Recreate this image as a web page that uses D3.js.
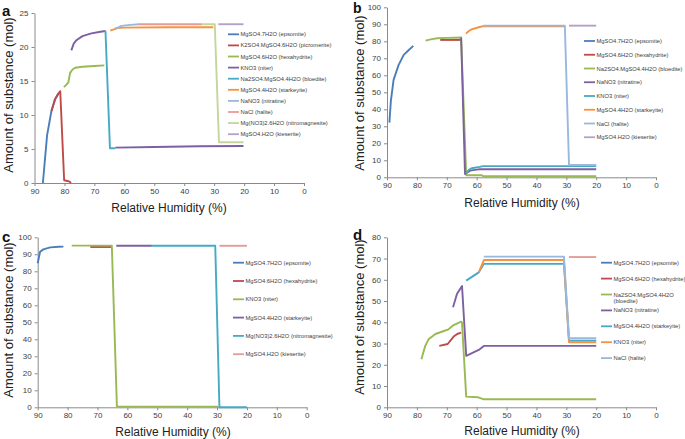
<!DOCTYPE html>
<html><head><meta charset="utf-8">
<script src="https://cdn.jsdelivr.net/npm/d3@7"></script>
<style>
body{margin:0;background:#fff;}
svg{display:block;font-family:"Liberation Sans",Arial,sans-serif;}
</style></head>
<body>
<svg id="chart" width="685" height="439"></svg>
<script>
// ---------- data (RH %, amount mol) ----------
const rhTicks = [90, 80, 70, 60, 50, 40, 30, 20, 10, 0];

// Panel a
const aNames = ["MgSO4.7H2O (epsomite)", "K2SO4.MgSO4.6H2O (picromerite)", "MgSO4.6H2O (hexahydrite)", "KNO3 (niter)", "Na2SO4.MgSO4.4H2O (bloedite)", "MgSO4.4H2O (starkeyite)", "NaNO3 (nitratine)", "NaCl (halite)", "Mg(NO3)2.6H2O (nitromagnesite)", "MgSO4.H2O (kieserite)"];
const aEpsomite = [[87.2,0],[85.8,7.0],[84.3,10.7],[83.0,12.4],[81.9,13.2]];
const aPicromerite = [[84.3,10.6],[83.2,12.3],[82.3,13.0],[81.4,13.5],[80.1,0.4],[79.0,0.3],[78.3,0.2],[77.8,0]];
const aHexahydrite = [[80.2,14.1],[79.5,14.4],[78.7,14.8],[78.1,16.2],[77.3,16.7],[76.4,16.95],[74,17.1],[70,17.2],[66.7,17.3]];
const aNiter = [[77.7,19.5],[76.9,20.5],[76,21.0],[74,21.6],[71,22.0],[68,22.25],[66.3,22.35],[null,null],[63,5.2],[50,5.3],[35,5.4],[20.2,5.45]];
const aBloedite = [[66.3,22.4],[64.8,5.1],[63,5.1]];
const aStarkeyite = [[64.7,22.4],[63.5,22.6],[62.5,22.8],[60,22.85],[45,22.9],[30.3,22.9]];
const aNitratine = [[63,22.6],[62,22.9],[61,23.1],[58,23.25],[55,23.35]];
const aHalite = [[55.2,23.35],[34,23.35]];
const aNitromagnesite = [[34,23.35],[29.8,23.35],[28.4,6.0],[20.2,6.0]];
const aKieserite = [[28.6,23.35],[20.2,23.35]];

// Panel b
const bNames = ["MgSO4.7H2O (epsomite)", "MgSO4.6H2O (hexahydrite)", "Na2SO4.MgSO4.4H2O (bloedite)", "NaNO3 (nitratine)", "KNO3 (niter)", "MgSO4.4H2O (starkeyite)", "NaCl (halite)", "MgSO4.H2O (kieserite)"];
const bEpsomite = [[89.2,32.2],[88.7,45],[87.8,57.3],[86.1,66.1],[84.4,72],[82.7,74.9],[81.2,77.3]];
const bHexahydrite = [[72.2,80.8],[65.2,80.8]];
const bBloedite = [[77.1,80.4],[75,81.3],[73.1,81.8],[70,82.0],[65.2,82.2],[63.5,1.2],[58.3,1.2],[57.8,0.6],[20,0.6]];
const bNitratine = [[65.2,82.2],[63.9,1.9],[62.2,3.9],[60,4.5],[58.9,4.7],[20,4.7]];
const bNiter = [[63.6,2.3],[62.5,4.5],[61.7,5.3],[59,6.1],[57.8,6.6],[20,6.6]];
const bStarkeyite = [[63.6,84.5],[62.5,86.2],[61.7,87.0],[59,88.4],[57.8,88.9],[30.5,88.8]];
const bHalite = [[57.8,89.2],[30.5,89.2],[29.1,7.2],[20,7.2]];
const bKieserite = [[29.1,89.2],[20,89.2]];

// Panel c
const cNames = ["MgSO4.7H2O (epsomite)", "MgSO4.6H2O (hexahydrite)", "KNO3 (niter)", "MgSO4.4H2O (starkeyite)", "Mg(NO3)2.6H2O (nitromagnesite)", "MgSO4.H2O (kieserite)"];
const cEpsomite = [[90,84.7],[89.5,89],[89.2,91.5],[88.1,92.9],[85.8,94.1],[83,94.4],[81.4,94.5]];
const cHexahydrite = [[72.4,94.3],[65.2,94.3]];
const cNiter = [[78.6,95.1],[65.2,95.1],[63.5,0.4],[29.6,0.4]];
const cStarkeyite = [[63.7,95],[51.8,95]];
const cNitromagnesite = [[51.8,95],[30.6,95],[29.2,0],[20,0]];
const cKieserite = [[29.2,95],[20,95]];

// Panel d
const dNames = ["MgSO4.7H2O (epsomite)", "MgSO4.6H2O (hexahydrite)", "Na2SO4.MgSO4.4H2O|(bloedite)", "NaNO3 (nitratine)", "MgSO4.4H2O (starkeyite)", "KNO3 (niter)", "NaCl (halite)"];
const dEpsomite = [];
const dHexahydrite = [[72.5,28.9],[69.7,29.8],[67.7,33.3],[66.5,34.5],[65.2,35.1]];
const dBloedite = [[78.5,22.6],[77.2,28.9],[76.1,32],[73.8,34.5],[71,35.9],[69.4,36.7],[67.7,38.7],[65.2,40.3],[64.9,39.8],[63.5,5.0],[59.5,4.7],[57.8,3.8],[20,3.8]];
const dNitratine = [[67.9,47.1],[66.6,53.3],[64.9,57.1],[63.5,24.2],[59.3,27],[57.6,28.9],[20,28.9]];
const dStarkeyite = [[63.5,59.6],[59.3,63.5],[57.6,67.5],[30.8,67.5],[29.1,31.4],[20,31.4]];
const dNiter = [[59.3,63.5],[57.6,69.3],[30.8,69.3],[29.1,30.6],[20,30.6]];
const dHalite = [[57.6,70.9],[30.8,70.9],[29.1,32.5],[20,32.5]];
const dKieserite = [[29.1,70.7],[20,70.7]];

// ---------- colours ----------
const C = {blue:"#4A7EBB", red:"#BE4B48", green:"#98B954", purple:"#7D60A0", cyan:"#46AAC5", orange:"#F69240", lblue:"#9AB8DE", pink:"#E29C9A", lgreen:"#C3D69B", lav:"#B3A2C7"};

// ---------- panel layout ----------
const panels = [
  {label:"a", lx:2, ly:16, lsize:15, x0:34.5, x1:304, y0:183, y1:13, yMax:25, yStep:5,
   ytx:8.5, yty:95, xtx:169, xty:212,
   series:[aEpsomite,aPicromerite,aHexahydrite,aNiter,aBloedite,aStarkeyite,aNitratine,aHalite,aNitromagnesite,aKieserite],
   colors:[C.blue,C.red,C.green,C.purple,C.cyan,C.orange,C.lblue,C.pink,C.lgreen,C.lav],
   names:aNames, legX:228, legY:34.3, legDy:11.1},
  {label:"b", lx:353, ly:13, lsize:14, x0:387, x1:656, y0:177.3, y1:7.3, yMax:100, yStep:10,
   ytx:359, yty:93, xtx:522, xty:207,
   series:[bEpsomite,bHexahydrite,bBloedite,bNitratine,bNiter,bStarkeyite,bHalite,bKieserite],
   colors:[C.blue,C.red,C.green,C.purple,C.cyan,C.orange,C.lblue,C.lav],
   names:bNames, legX:584, legY:41, legDy:13.75},
  {label:"c", lx:2, ly:242, lsize:15, x0:37.7, x1:306.7, y0:407.3, y1:237.3, yMax:100, yStep:10,
   ytx:8, yty:320, xtx:173, xty:435.5,
   series:[cEpsomite,cHexahydrite,cNiter,cStarkeyite,cNitromagnesite,cKieserite],
   colors:[C.blue,C.red,C.green,C.purple,C.cyan,C.pink],
   names:cNames, legX:233, legY:262.7, legDy:18.3},
  {label:"d", lx:353, ly:240, lsize:15, x0:387, x1:656, y0:407.3, y1:237.3, yMax:80, yStep:10,
   ytx:359, yty:317, xtx:522, xty:434.5,
   series:[dEpsomite,dHexahydrite,dBloedite,dNitratine,dStarkeyite,dNiter,dHalite,dKieserite],
   colors:[C.blue,C.red,C.green,C.purple,C.cyan,C.orange,C.lblue,C.pink],
   names:dNames, legX:601, legY:262.7, legDy:15.9}
];

const svg = d3.select("#chart");
const axisCol = "#8a8a8a", tickTextCol = "#404040";

panels.forEach(p => {
  const g = svg.append("g");
  const x = d3.scaleLinear().domain([90, 0]).range([p.x0, p.x1]);
  const y = d3.scaleLinear().domain([0, p.yMax]).range([p.y0, p.y1]);

  const xa = g.append("g").attr("transform", `translate(0,${p.y0})`)
    .call(d3.axisBottom(x).tickValues(rhTicks).tickSize(3).tickSizeOuter(0).tickPadding(2));
  const ya = g.append("g").attr("transform", `translate(${p.x0},0)`)
    .call(d3.axisLeft(y).tickValues(d3.range(0, p.yMax + 0.001, p.yStep)).tickSize(3).tickSizeOuter(0).tickPadding(3));
  [xa, ya].forEach(a => {
    a.select(".domain").attr("stroke", axisCol).attr("stroke-width", 1);
    a.selectAll(".tick line").attr("stroke", axisCol);
    a.selectAll(".tick text").attr("fill", tickTextCol).style("font-size", "8px")
      .style("font-family", "'Liberation Sans',Arial,sans-serif");
  });

  const line = d3.line().defined(d => d[0] !== null)
    .x(d => x(d[0])).y(d => y(d[1]));
  p.series.forEach((s, i) => {
    if (!s.length) return;
    g.append("path").datum(s).attr("d", line)
      .attr("fill", "none").attr("stroke", p.colors[i])
      .attr("stroke-width", 1.9).attr("stroke-linejoin", "round");
  });

  // titles
  g.append("text").attr("x", p.lx).attr("y", p.ly).text(p.label)
    .style("font-size", p.lsize + "px").style("font-weight", "bold").attr("fill", "#111");
  g.append("text").attr("transform", `translate(${p.ytx},${p.yty}) rotate(-90)`)
    .attr("text-anchor", "middle").attr("dominant-baseline", "central")
    .text("Amount of substance (mol)").style("font-size", "13px").attr("fill", "#222");
  g.append("text").attr("x", p.xtx).attr("y", p.xty).attr("text-anchor", "middle")
    .text("Relative Humidity (%)").style("font-size", "12px").attr("fill", "#222");

  // legend
  let yy = p.legY;
  p.names.forEach((n, i) => {
    const parts = n.split("|");
    g.append("line").attr("x1", p.legX).attr("x2", p.legX + 11)
      .attr("y1", yy).attr("y2", yy).attr("stroke", p.colors[i]).attr("stroke-width", 1.8);
    parts.forEach((t, k) => {
      g.append("text").attr("x", p.legX + 12.5).attr("y", yy + k * 6).attr("dominant-baseline", "central")
        .text(t).style("font-size", "5.8px").attr("fill", "#404040");
    });
    yy += p.legDy;
  });
});
</script>
</body></html>
